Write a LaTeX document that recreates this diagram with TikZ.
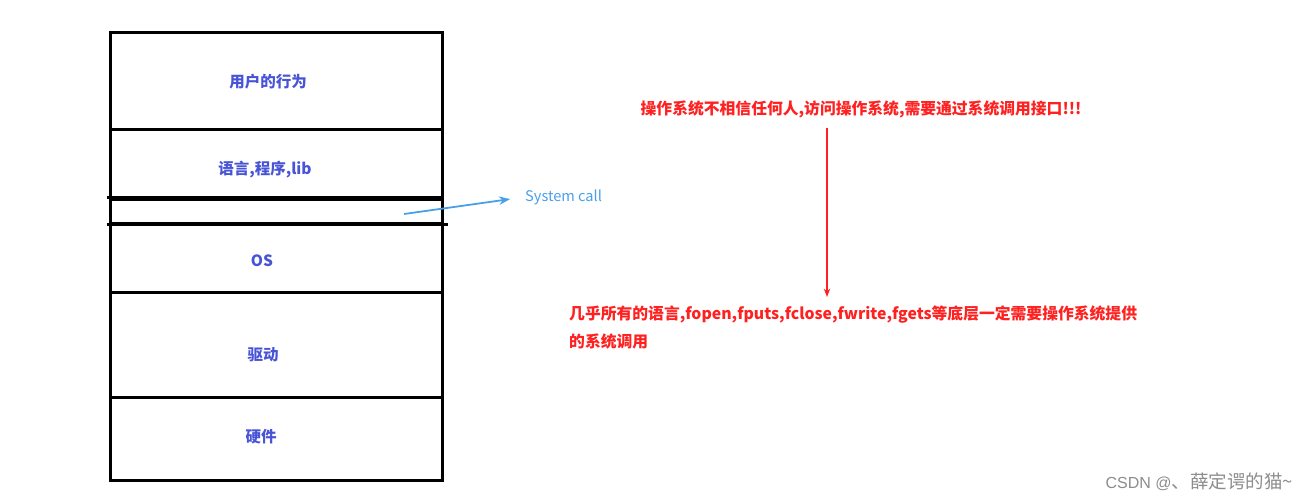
\documentclass[tikz,border=0pt]{standalone}
\usepackage{fontspec}
\newfontfamily\cjk{Noto Sans CJK SC}
\newfontfamily\latn{Liberation Sans}
\usetikzlibrary{arrows.meta, positioning}
\definecolor{layerblue}{RGB}{72,84,214}
\definecolor{callblue}{RGB}{74,159,232}
\definecolor{warnred}{RGB}{255,32,32}

\begin{document}
\begin{tikzpicture}[x=1pt, y=-1pt, >={Stealth},
    layer/.style={draw, line width=3pt, rectangle, minimum width=332pt, inner sep=0pt},
    wall/.style={line width=3pt},
    tag/.style={font=\cjk\bfseries\fontsize{15.5}{18}\selectfont, text=layerblue, inner sep=0pt},
    warn/.style={font=\cjk\bfseries\fontsize{15.8}{28}\selectfont, text=warnred, inner sep=0pt, align=left}]
    \useasboundingbox (0,0) rectangle (1308,501);
    \node[layer, minimum height=97pt] (user) at (276,80.5) {};
    \node[layer, minimum height=70pt] (lang) at (276,164) {};
    \node[layer, minimum height=24pt] (gap) at (276,211) {};
    \node[layer, minimum height=69pt] (os) at (276,257.5) {};
    \node[layer, minimum height=105pt] (drv) at (276,344.5) {};
    \node[layer, minimum height=83pt] (hw) at (276,438.5) {};
    \draw[wall] ([xshift=-2pt]gap.north west) -- (gap.north east);
    \draw[wall] ([xshift=-2pt]gap.south west) -- ([xshift=4pt]gap.south east);
    \node[tag] (user-t) at (268,82) {用户的行为};
    \node[tag] (lang-t) at (265,170) {语言,程序,lib};
    \node[tag] (os-t) at (262,261) {OS};
    \node[tag] (drv-t) at (263,355) {驱动};
    \node[tag] (hw-t) at (261,437) {硬件};
    \coordinate (sc-from) at (404,214);
    \node[anchor=west, inner sep=0pt, text=callblue, font=\cjk\fontsize{14.6}{16}\selectfont] (sc) at (525,197) {System call};
    \draw[->, callblue, line width=1.8pt, shorten >=15pt] (sc-from) -- (sc.west);
    \node[warn] (rule) at (861,109) {操作系统不相信任何人,访问操作系统,需要通过系统调用接口!!!};
    \node[warn, anchor=north west] (need) at (569,306) {几乎所有的语言,fopen,fputs,fclose,fwrite,fgets等底层一定需要操作系统提供\\的系统调用};
    \coordinate (drop) at (827,128);
    \draw[->, warnred, line width=1.2pt, shorten >=9pt] (drop) -- (drop |- need.north);
    \node[anchor=east, inner sep=0pt, text=black!45, font=\cjk\fontsize{18.5}{20}\selectfont] (mark) at (1293,482) {{\latn\fontsize{16}{20}\selectfont CSDN @}、薛定谔的猫\textasciitilde};
\end{tikzpicture}
\end{document}
